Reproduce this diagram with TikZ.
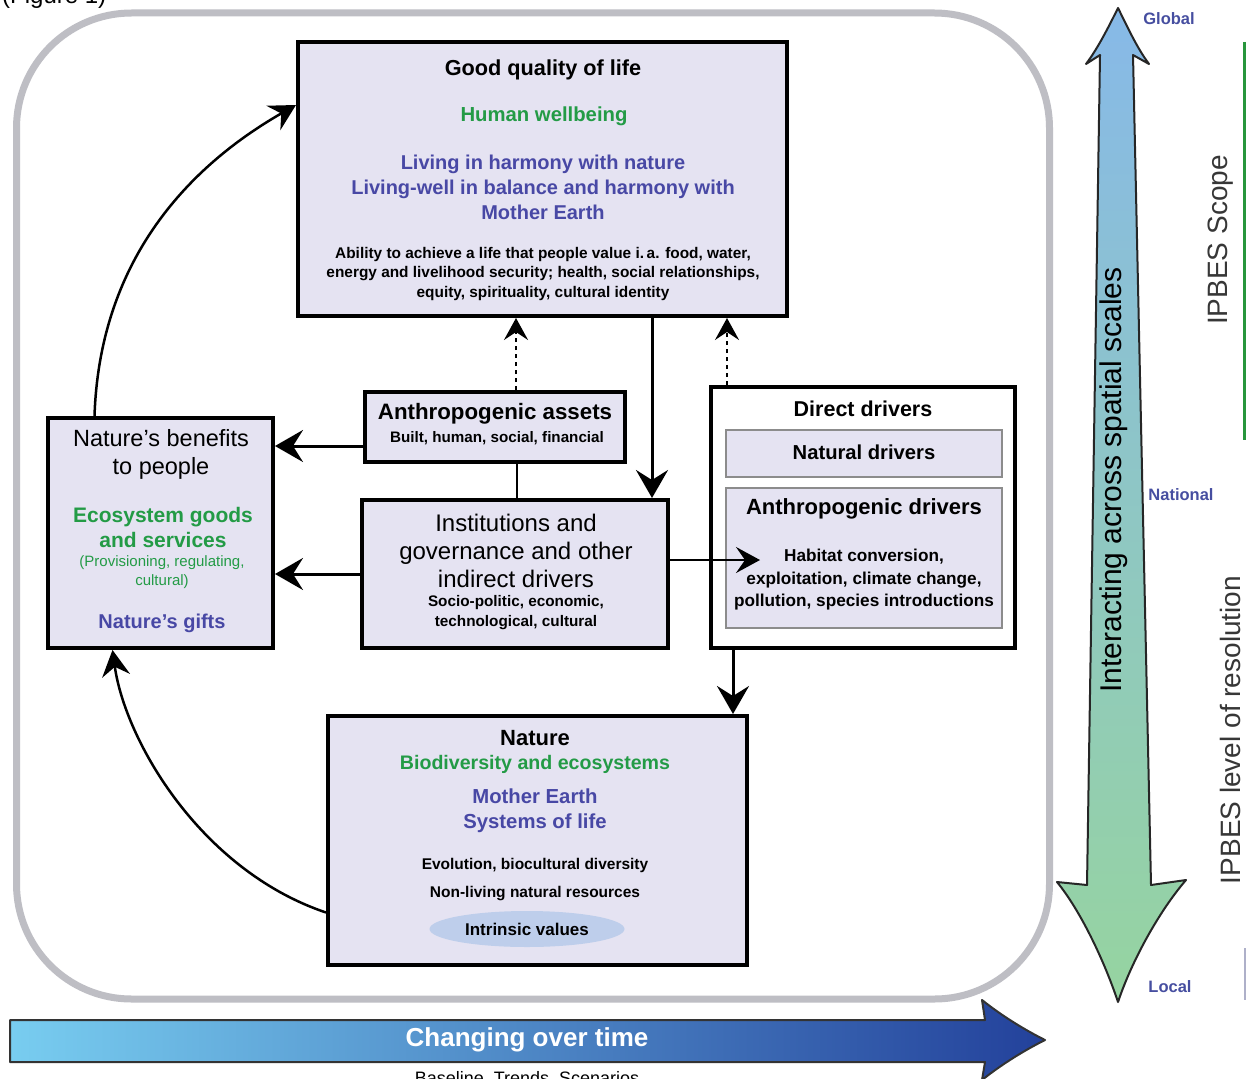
\documentclass[tikz,border=0pt]{standalone}
\usepackage{fontspec}
\setmainfont{Liberation Sans}
\usetikzlibrary{arrows.meta,shapes.geometric,calc}
\definecolor{lav}{RGB}{229,227,242}
\definecolor{tgreen}{RGB}{35,155,70}
\definecolor{tblue}{RGB}{72,72,165}
\definecolor{framegray}{RGB}{190,190,196}
\definecolor{ellblue}{RGB}{190,206,235}
\definecolor{lblue}{RGB}{70,78,160}
\definecolor{vtop}{RGB}{135,185,232}
\definecolor{vmid}{RGB}{140,200,205}
\definecolor{vbot}{RGB}{150,212,160}
\definecolor{hleft}{RGB}{120,205,240}
\definecolor{hright}{RGB}{35,65,155}
\definecolor{scopegreen}{RGB}{40,150,60}
\definecolor{graytxt}{RGB}{55,55,55}
\newcommand{\fz}[2]{\fontsize{#1}{#2}\selectfont}
\tikzset{
  boxnode/.style={draw=black, line width=4pt, fill=lav, rectangle, inner sep=0pt},
  subboxnode/.style={draw=black!45, line width=1.2pt, fill=lav, rectangle, inner sep=0pt},
  txt/.style={inner sep=0pt, align=center, text=black},
  arr/.style={line width=3pt, -{Stealth[length=28pt,width=32pt,inset=10pt]}},
  arrs/.style={line width=2.2pt, -{Stealth[length=24pt,width=26pt,inset=9pt]}},
  carr/.style={line width=2.5pt, -{Stealth[length=26pt,width=28pt,inset=9pt]}},
  darr/.style={line width=2.5pt, dash pattern=on 4pt off 4pt, -{Stealth[length=22pt,width=24pt,inset=8pt]}},
  plainln/.style={line width=2pt},
  outerframe/.style={draw=framegray, line width=7pt, rounded corners=115pt, inner sep=0pt},
  scalelbl/.style={inner sep=0pt, text=lblue, font=\fz{16.5}{20}\bfseries},
}
\begin{document}
\begin{tikzpicture}[x=1pt,y=-1pt]
\useasboundingbox (0,0) rectangle (1246,1078);
\clip (0,0) rectangle (1246,1078);
\fill[white] (0,0) rectangle (1246,1078);

% top-left cut caption
\node[inner sep=0pt, anchor=base west, font=\fz{24}{28}] (figcap) at (2,4) {(Figure 1)};

% outer frame
\node[outerframe, minimum width=1033pt, minimum height=986pt] (frame) at (533,506) {};

% boxes
\node[boxnode, minimum width=489pt, minimum height=274pt] (gq) at (542.5,179) {};
\node[boxnode, minimum width=260pt, minimum height=70pt] (assets) at (495,427) {};
\node[boxnode, minimum width=306pt, minimum height=148pt] (inst) at (515,574) {};
\node[boxnode, minimum width=225pt, minimum height=230pt] (benefits) at (160.5,533) {};
\node[boxnode, fill=white, minimum width=304pt, minimum height=261pt] (direct) at (863,517.5) {};
\node[subboxnode, minimum width=276pt, minimum height=47pt] (natdrv) at (864,453.5) {};
\node[subboxnode, minimum width=276pt, minimum height=140pt] (anthdrv) at (864,558) {};
\node[boxnode, minimum width=419pt, minimum height=249pt] (nature) at (537.5,840.5) {};

% texts: good quality of life
\node[txt, font=\fz{21.7}{26}\bfseries] (gqt1) at (543,70) {Good quality of life};
\node[txt, text=tgreen, font=\fz{20.3}{24}\bfseries] (gqt2) at (544,116) {Human wellbeing};
\node[txt, text=tblue, font=\fz{20}{25}\bfseries] (gqt3) at (543,187) {Living in harmony with nature\\Living-well in balance and harmony with\\Mother Earth};
\node[txt, font=\fz{15.4}{19.5}\bfseries] (gqt4) at (543,274) {Ability to achieve a life that people value i.\,a. food, water,\\energy and livelihood security; health, social relationships,\\equity, spirituality, cultural identity};

% assets
\node[txt, font=\fz{22.3}{26}\bfseries] (ast1) at (495,414) {Anthropogenic assets};
\node[txt, font=\fz{15.2}{18}\bfseries] (ast2) at (497,438) {Built, human, social, financial};

% institutions
\node[txt, font=\fz{24}{28}] (ins1) at (516,551) {Institutions and\\governance and other\\indirect drivers};
\node[txt, font=\fz{15.3}{20}\bfseries] (ins2) at (516,613) {Socio-politic, economic,\\technological, cultural};

% benefits
\node[txt, font=\fz{23.5}{28}] (ben1) at (161,454) {Nature’s benefits\\to people};
\node[txt, text=tgreen, font=\fz{21}{25}\bfseries] (ben2) at (163,527) {Ecosystem goods\\and services};
\node[txt, text=tgreen, font=\fz{15}{19}] (ben3) at (162,572) {(Provisioning, regulating,\\cultural)};
\node[txt, text=tblue, font=\fz{20}{24}\bfseries] (ben4) at (162,623) {Nature’s gifts};

% direct drivers
\node[txt, font=\fz{21.5}{26}\bfseries] (dir1) at (863,409) {Direct drivers};
\node[txt, font=\fz{20.2}{24}\bfseries] (dir2) at (864,452) {Natural drivers};
\node[txt, font=\fz{22}{26}\bfseries] (dir3) at (864,509) {Anthropogenic drivers};
\node[txt, font=\fz{17.2}{22.5}\bfseries] (dir4) at (864,580) {Habitat conversion,\\exploitation, climate change,\\pollution, species introductions};

% nature
\node[txt, font=\fz{22}{26}\bfseries] (nat1) at (535,738) {Nature};
\node[txt, text=tgreen, font=\fz{19.6}{24}\bfseries] (nat2) at (535,764) {Biodiversity and ecosystems};
\node[txt, text=tblue, font=\fz{20.3}{25}\bfseries] (nat3) at (535,810.5) {Mother Earth\\Systems of life};
\node[txt, font=\fz{15.5}{28}\bfseries] (nat4) at (535,880) {Evolution, biocultural diversity\\Non-living natural resources};
\node[ellipse, fill=ellblue, minimum width=195pt, minimum height=36pt, inner sep=0pt, font=\fz{17}{20}\bfseries] (intr) at (527,929) {Intrinsic values};

% connectors
\draw[carr] ([xshift=-66pt]benefits.north) .. controls (100,250) and (200,160) .. ([yshift=74pt]gq.west);
\draw[carr] ([yshift=-72pt]nature.west) .. controls (200,870) and (125,740) .. ([xshift=-48pt]benefits.south);
\draw[arr] ([yshift=-19pt]assets.west) -- ([yshift=-19pt]assets.west -| benefits.east);
\draw[arr] (inst.west) -- (inst.west -| benefits.east);
\draw[plainln] ([xshift=22pt]assets.south) -- ([xshift=22pt]assets.south |- inst.north);
\draw[darr] ([xshift=21pt]assets.north) -- ([xshift=21pt]assets.north |- gq.south);
\draw[darr] ([xshift=-136pt]direct.north) -- ([xshift=-136pt]direct.north |- gq.south);
\draw[arr] ([xshift=109.5pt]gq.south) -- ([xshift=109.5pt]gq.south |- inst.north);
\coordinate (habtip) at (760,560);
\draw[arrs] ([yshift=14pt]inst.east) -- (habtip);
\draw[arr] ([xshift=-130pt]direct.south) -- ([xshift=-130pt]direct.south |- nature.north);

% vertical scale arrow
\shade[top color=vtop, middle color=vmid, bottom color=vbot, draw=black!85, line width=2pt, line join=round]
 (1118,8) .. controls (1128,28) and (1137,48) .. (1149,64)
 -- (1133,55) -- (1151,885) -- (1186,880)
 .. controls (1160,910) and (1132,960) .. (1118,1002)
 .. controls (1104,960) and (1080,910) .. (1057,882)
 -- (1087,885) -- (1100,55) -- (1086,64)
 .. controls (1098,48) and (1108,28) .. (1118,8) -- cycle;
\node[inner sep=0pt, rotate=90, font=\fz{30}{34}] (scaletxt) at (1114,480) {Interacting across spatial scales};
\node[scalelbl] (glob) at (1169,19) {Global};
\node[scalelbl] (natl) at (1181,495) {National};
\node[scalelbl] (locl) at (1170,987) {Local};
\node[inner sep=0pt, rotate=90, text=graytxt, font=\fz{28}{32}] (scope) at (1221,240) {IPBES Scope};
\node[inner sep=0pt, rotate=90, text=graytxt, font=\fz{28}{32}] (resol) at (1230,730) {IPBES level of resolution};
\draw[scopegreen, line width=3pt] (1244,42) -- (1244,440);
\draw[black!25!lblue!40, line width=2pt] (1245,948) -- (1245,1000);

% horizontal time arrow
\shade[left color=hleft, right color=hright, draw=black!80, line width=2pt, line join=round]
 (10,1020) -- (985,1020) -- (982,1000)
 .. controls (1002,1016) and (1025,1030) .. (1045,1040)
 .. controls (1025,1050) and (1002,1064) .. (982,1080)
 -- (985,1062) -- (10,1062) -- cycle;
\node[inner sep=0pt, text=white, font=\fz{26}{30}\bfseries] (timetxt) at (527,1040) {Changing over time};
\node[inner sep=0pt, anchor=north, font=\fz{18}{22}] (basetxt) at (527,1071) {Baseline, Trends, Scenarios};
\end{tikzpicture}
\end{document}
